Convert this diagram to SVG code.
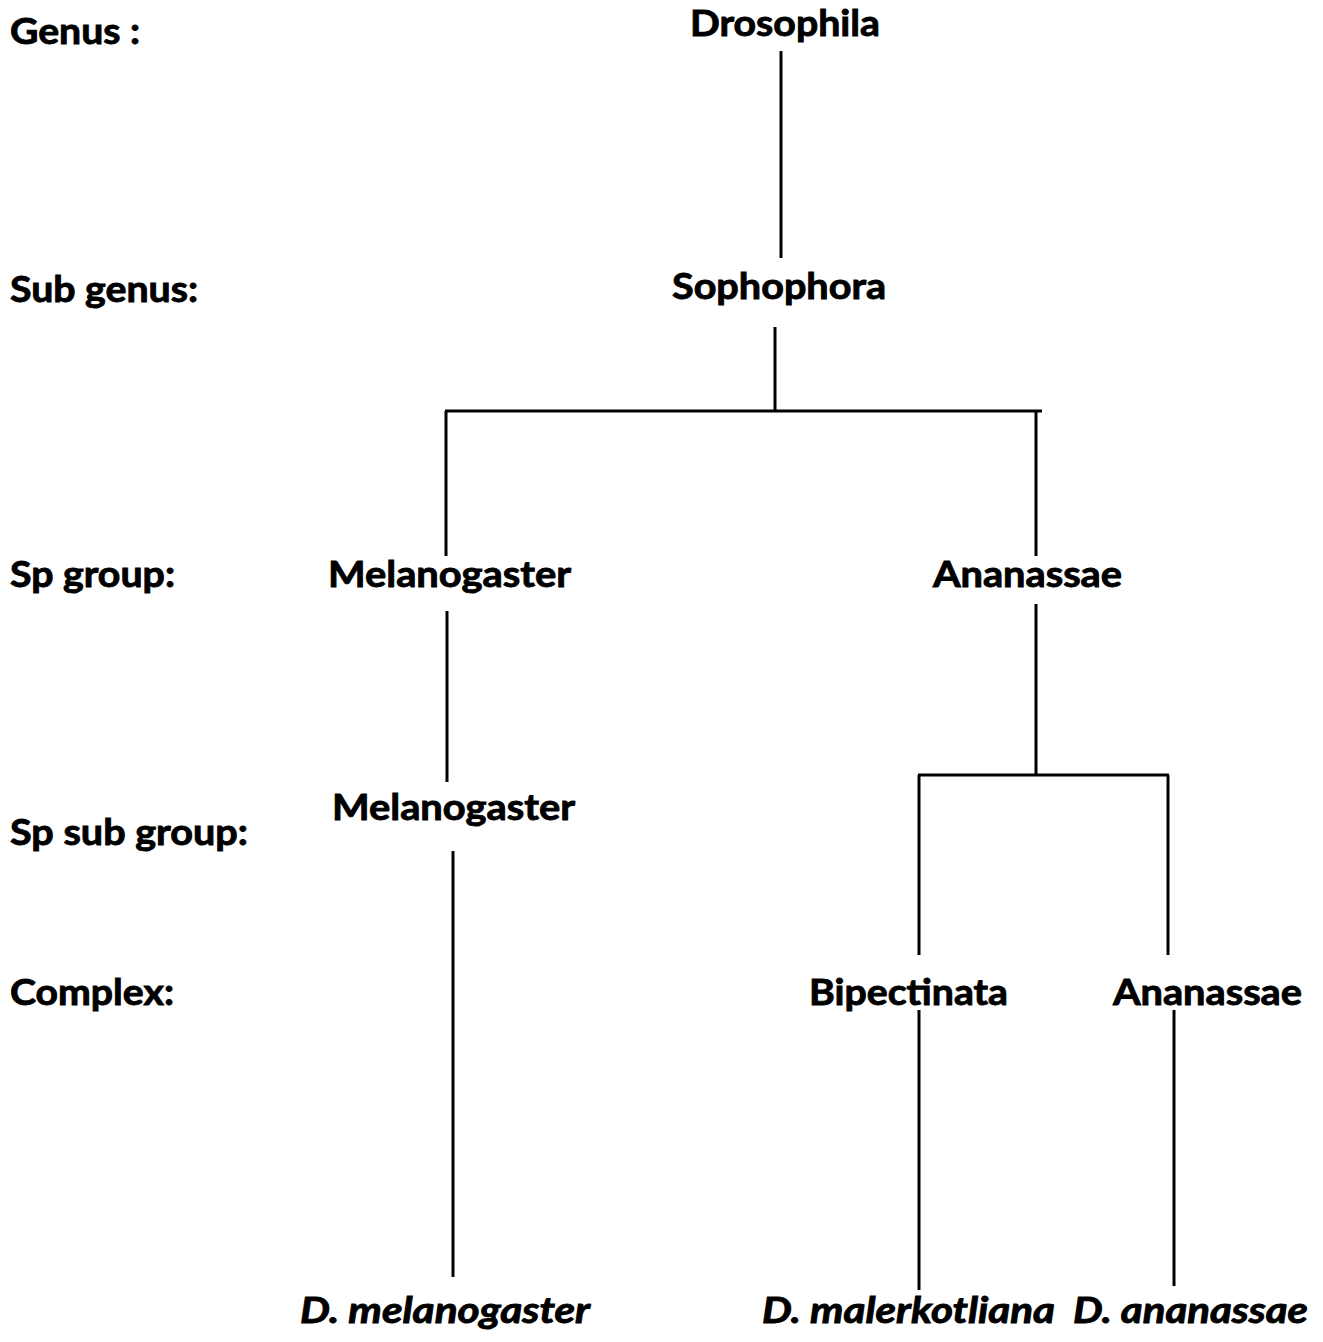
<svg xmlns="http://www.w3.org/2000/svg" width="1323" height="1342" viewBox="0 0 1323 1342">
<style>
text{font-family:Lato,"Liberation Sans",sans-serif;font-weight:bold;font-size:37px;fill:#000;stroke:#000;stroke-width:0.9px}
.it{font-style:italic}
.c line{stroke:#000;stroke-width:3;fill:none}
</style>
<rect width="1323" height="1342" fill="#fff"/>
<g id="levels">
<text x="10" y="44" textLength="130" lengthAdjust="spacingAndGlyphs">Genus :</text>
<text x="10" y="302" textLength="188" lengthAdjust="spacingAndGlyphs">Sub genus:</text>
<text x="10" y="587" textLength="165" lengthAdjust="spacingAndGlyphs">Sp group:</text>
<text x="10" y="845" textLength="238" lengthAdjust="spacingAndGlyphs">Sp sub group:</text>
<text x="10" y="1005" textLength="164" lengthAdjust="spacingAndGlyphs">Complex:</text>
</g>
<g id="n-drosophila"><text x="690" y="36" textLength="190" lengthAdjust="spacingAndGlyphs">Drosophila</text></g>
<g id="n-sophophora"><text x="672" y="299" textLength="214" lengthAdjust="spacingAndGlyphs">Sophophora</text></g>
<g id="n-melanogaster-group"><text x="328" y="587" textLength="243" lengthAdjust="spacingAndGlyphs">Melanogaster</text></g>
<g id="n-ananassae-group"><text x="933" y="587" textLength="189" lengthAdjust="spacingAndGlyphs">Ananassae</text></g>
<g id="n-melanogaster-subgroup"><text x="332" y="820" textLength="243" lengthAdjust="spacingAndGlyphs">Melanogaster</text></g>
<g id="n-bipectinata"><text x="809" y="1005" textLength="199" lengthAdjust="spacingAndGlyphs">Bipectinata</text></g>
<g id="n-ananassae-complex"><text x="1113" y="1005" textLength="189" lengthAdjust="spacingAndGlyphs">Ananassae</text></g>
<g id="n-d-melanogaster"><text class="it" x="300" y="1323" textLength="290" lengthAdjust="spacingAndGlyphs">D. melanogaster</text></g>
<g id="n-d-malerkotliana"><text class="it" x="762" y="1323" textLength="293" lengthAdjust="spacingAndGlyphs">D. malerkotliana</text></g>
<g id="n-d-ananassae"><text class="it" x="1073" y="1323" textLength="235" lengthAdjust="spacingAndGlyphs">D. ananassae</text></g>
<g id="connectors" class="c">
<line x1="781" y1="51" x2="781" y2="258"/>
<line x1="775" y1="327" x2="775" y2="411"/>
<line x1="445" y1="411" x2="1042" y2="411"/>
<line x1="446" y1="411" x2="446" y2="556"/>
<line x1="1036" y1="411" x2="1036" y2="556"/>
<line x1="447" y1="611" x2="447" y2="782"/>
<line x1="453" y1="851" x2="453" y2="1277"/>
<line x1="1036" y1="604" x2="1036" y2="775"/>
<line x1="918" y1="775" x2="1169" y2="775"/>
<line x1="919" y1="775" x2="919" y2="955"/>
<line x1="1168" y1="775" x2="1168" y2="955"/>
<line x1="919" y1="1010" x2="919" y2="1290"/>
<line x1="1174" y1="1010" x2="1174" y2="1286"/>
</g>
</svg>
